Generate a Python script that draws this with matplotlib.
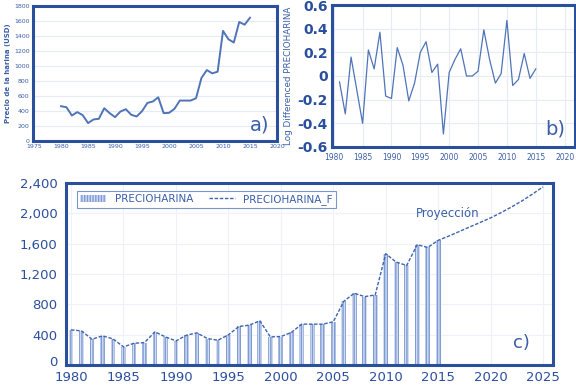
import matplotlib
matplotlib.use("Agg")
import matplotlib.pyplot as plt
import matplotlib.transforms as mtransforms
from matplotlib.ticker import FuncFormatter

years = list(range(1980, 2016))
precio = [464, 450, 340, 385, 345, 239, 287, 296, 437, 371, 318, 393, 424, 349, 327, 398,
          508, 526, 583, 371, 375, 429, 539, 539, 539, 570, 840, 946, 902, 924, 1468, 1357,
          1313, 1587, 1551, 1644]

years_f = list(range(2015, 2026))
precio_f = [1644, 1700, 1760, 1820, 1880, 1940, 2010, 2085, 2165, 2255, 2350]

years_d = list(range(1981, 2016))
logdiff = [-0.05, -0.32, 0.16, -0.12, -0.40, 0.22, 0.06, 0.37, -0.17, -0.19, 0.24, 0.09,
           -0.21, -0.06, 0.20, 0.29, 0.03, 0.10, -0.49, 0.03, 0.14, 0.23, 0.0, 0.0, 0.04,
           0.39, 0.14, -0.06, 0.02, 0.47, -0.08, -0.03, 0.19, -0.02, 0.06]

frame_c = "#2a4f9c"
line_c = "#4f74b8"
text_c = "#3b5ea8"
grid_c = "#e6ebf4"

fig = plt.figure(figsize=(5.76, 3.85), dpi=100)

# ---- panel a
axa = fig.add_axes([0.0573, 0.6338, 0.4236, 0.3506])
axa.plot(years, precio, color=line_c, lw=1.4, solid_joinstyle="round")
axa.set_xlim(1974.8, 2020)
axa.set_ylim(0, 1800)
axa.set_xticks(range(1975, 2021, 5))
axa.set_yticks(range(0, 1801, 200))
axa.yaxis.grid(True, color=grid_c, lw=0.8)
axa.set_axisbelow(True)
axa.tick_params(length=0, labelsize=4.5, labelcolor=text_c, pad=2.5)
axa.set_ylabel("Precio de la harina (USD)", fontsize=5, color=text_c, fontweight="bold", labelpad=2)
axa.text(0.93, 0.12, "a)", transform=axa.transAxes, fontsize=14, color=text_c, ha="center", va="center")

# ---- panel b
axb = fig.add_axes([0.5764, 0.6182, 0.4219, 0.3688])
axb.plot(years_d, logdiff, color=line_c, lw=0.9)
axb.set_xlim(1979.7, 2021.8)
axb.set_ylim(-0.6, 0.6)
axb.set_xticks(range(1980, 2021, 5))
axb.set_yticks([-0.6, -0.4, -0.2, 0, 0.2, 0.4, 0.6])
axb.set_yticklabels(["-0.6", "-0.4", "-0.2", "0", "0.2", "0.4", "0.6"])
axb.grid(True, color=grid_c, lw=0.8)
axb.set_axisbelow(True)
axb.tick_params(axis="y", length=0, labelsize=10, labelcolor="#2a4f9c", pad=3)
for t in axb.get_yticklabels():
    t.set_fontweight("bold")
axb.tick_params(axis="x", length=0, labelsize=5.5, labelcolor=text_c, pad=4)
axb.set_ylabel("Log Differenced PRECIOHARINA", fontsize=6.3, color=text_c, labelpad=3)
axb.text(0.92, 0.13, "b)", transform=axb.transAxes, fontsize=14, color=text_c, ha="center", va="center")

# ---- panel c
axc = fig.add_axes([0.1146, 0.0519, 0.8455, 0.4727])
bars = axc.bar(years, precio, width=0.45, facecolor="#d3ddf2", edgecolor="#7f9bd3", lw=0,
               hatch="||||||", label="PRECIOHARINA")
line, = axc.plot(years + years_f[1:], precio + precio_f[1:], color="#3f63b0", lw=1.0,
                 ls=(0, (2.5, 1.2)), label="PRECIOHARINA_F")
axc.set_xlim(1979.52, 2025.95)
axc.set_ylim(0, 2400)
axc.set_xticks(range(1980, 2026, 5))
axc.set_yticks(range(0, 2401, 400))
axc.yaxis.set_major_formatter(FuncFormatter(lambda v, p: f"{int(v):,}"))
axc.grid(True, color="#eef1f8", lw=0.8)
axc.set_axisbelow(True)
axc.tick_params(axis="y", length=0, labelsize=9.5, labelcolor="#2a4f9c", pad=6)
axc.tick_params(axis="x", length=0, labelsize=9.5, labelcolor="#2a4f9c", pad=4)
axc.text(2015.9, 2000, "Proyección", fontsize=8.5, color=text_c, ha="center", va="center")
axc.text(0.935, 0.12, "c)", transform=axc.transAxes, fontsize=13, color=text_c, ha="center", va="center")
leg = axc.legend([bars, line], ["PRECIOHARINA", "PRECIOHARINA_F"], loc="upper left", ncol=2,
                 fontsize=7.5, frameon=True, fancybox=False,
                 bbox_to_anchor=(0.012, 0.985), borderpad=0.3, handlelength=2.5,
                 columnspacing=1.5, handletextpad=0.8)
leg.get_frame().set_edgecolor("#5a7cc0")
leg.get_frame().set_linewidth(0.8)
for t in leg.get_texts():
    t.set_color(text_c)

# nudge the "0" label of panel c up slightly so it clears the 1980 label
fig.canvas.draw()
zero_lbl = axc.get_yticklabels()[0]
zero_lbl.set_transform(zero_lbl.get_transform() +
                       mtransforms.ScaledTranslation(0, 3 / 72, fig.dpi_scale_trans))

for ax in (axa, axb, axc):
    for s in ax.spines.values():
        s.set_color(frame_c)
        s.set_linewidth(2.2)

fig.savefig("out.png", dpi=100)
